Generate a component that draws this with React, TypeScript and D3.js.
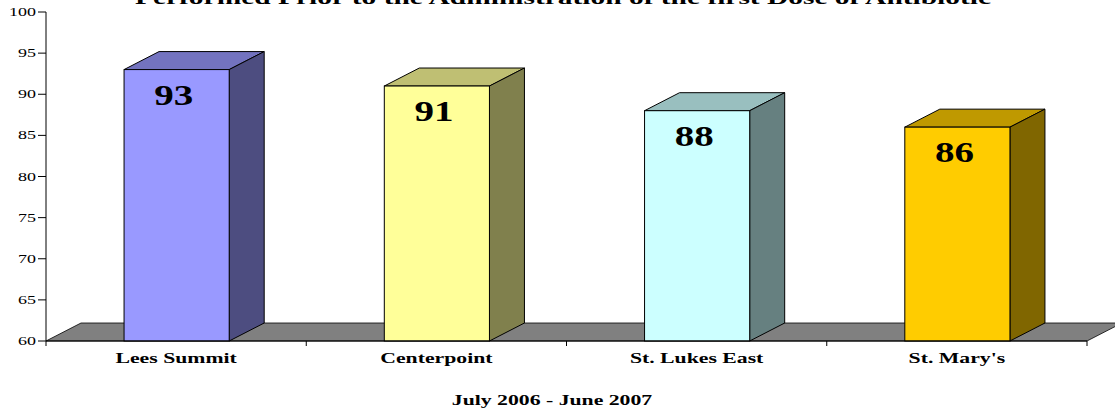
import React from "react";
import * as d3 from "d3";

const categories = ["Lees Summit", "Centerpoint", "St. Lukes East", "St. Mary's"];
const values = [93, 91, 88, 86];
const frontColors = ["#9999FF", "#FFFF99", "#CCFFFF", "#FFCC00"];
const topColors = ["#7373BF", "#BFBF73", "#99BFBF", "#BF9900"];
const sideColors = ["#4D4D80", "#80804D", "#668080", "#806600"];
const yTicks = [60, 65, 70, 75, 80, 85, 90, 95, 100];
const titleText = "Performed Prior to the Administration of the first Dose of Antibiotic";
const subtitleText = "July 2006 - June 2007";

const W = 1115;
const H = 412;
const DX = 35;
const DY = -18;
const SX = 1.5;

function Stretched({ x, y, sx, children, ...rest }: any) {
  return (
    <g transform={`translate(${x},${y}) scale(${sx},1)`}>
      <text x={0} y={0} {...rest}>
        {children}
      </text>
    </g>
  );
}

export default function App() {
  const y = d3.scaleLinear().domain([60, 100]).range([341, 12]);
  const x = d3.scaleBand<string>().domain(categories).range([46, 1087]);
  const bw = x.bandwidth() * 0.404;
  const y0 = y(60);
  const xEnd = x.range()[1];
  const font = "'Liberation Serif', 'Times New Roman', serif";

  return (
    <svg
      width={W}
      height={H}
      style={{ position: "absolute", left: 0, top: 0, background: "#fff" }}
      fontFamily={font}
    >
      {/* floor */}
      <path
        d={`M${46},${y0} L${46 + DX},${y0 + DY} L${xEnd + DX},${y0 + DY} L${xEnd},${y0} Z`}
        fill="#808080"
        stroke="#000"
        strokeWidth={0.8}
      />
      {/* bars */}
      {categories.map((c, i) => {
        const cx = (x(c) as number) + x.bandwidth() / 2 + 0.5;
        const x0 = cx - bw / 2;
        const x1 = cx + bw / 2;
        const yt = y(values[i]);
        return (
          <g key={c}>
            <path
              d={`M${x0},${yt} L${x0 + DX},${yt + DY} L${x1 + DX},${yt + DY} L${x1},${yt} Z`}
              fill={topColors[i]}
              stroke="#000"
              strokeWidth={1}
              strokeLinejoin="round"
            />
            <path
              d={`M${x1},${yt} L${x1 + DX},${yt + DY} L${x1 + DX},${y0 + DY} L${x1},${y0} Z`}
              fill={sideColors[i]}
              stroke="#000"
              strokeWidth={1}
              strokeLinejoin="round"
            />
            <rect
              x={x0}
              y={yt}
              width={bw}
              height={y0 - yt}
              fill={frontColors[i]}
              stroke="#000"
              strokeWidth={1}
            />
            <Stretched
              x={cx - 3}
              y={yt + 35}
              sx={1.3}
              textAnchor="middle"
              fontSize={30}
              fontWeight="bold"
              fill="#000"
            >
              {values[i]}
            </Stretched>
          </g>
        );
      })}
      {/* y axis */}
      <line x1={46} x2={46} y1={y(100)} y2={y0 + 5} stroke="#000" strokeWidth={1} />
      {yTicks.map((t) => (
        <g key={t}>
          <line x1={38} x2={46} y1={y(t)} y2={y(t)} stroke="#000" strokeWidth={1} />
          <Stretched x={36} y={y(t) + 4} sx={SX} textAnchor="end" fontSize={12} fill="#000">
            {t}
          </Stretched>
        </g>
      ))}
      {/* x axis */}
      <line x1={46} x2={xEnd} y1={y0} y2={y0} stroke="#000" strokeWidth={1} />
      {categories.map((c) => (
        <line
          key={"t" + c}
          x1={(x(c) as number) + x.bandwidth()}
          x2={(x(c) as number) + x.bandwidth()}
          y1={y0}
          y2={y0 + 5}
          stroke="#000"
          strokeWidth={1}
        />
      ))}
      {categories.map((c) => (
        <Stretched
          key={"l" + c}
          x={(x(c) as number) + x.bandwidth() / 2}
          y={363}
          sx={SX}
          textAnchor="middle"
          fontSize={14.5}
          fontWeight="bold"
          fill="#000"
        >
          {c}
        </Stretched>
      ))}
      <Stretched x={552} y={405} sx={SX} textAnchor="middle" fontSize={14.5} fontWeight="bold" fill="#000">
        {subtitleText}
      </Stretched>
      <Stretched x={563} y={4} sx={1.55} textAnchor="middle" fontSize={19} fontWeight="bold" fill="#000">
        {titleText}
      </Stretched>
    </svg>
  );
}
